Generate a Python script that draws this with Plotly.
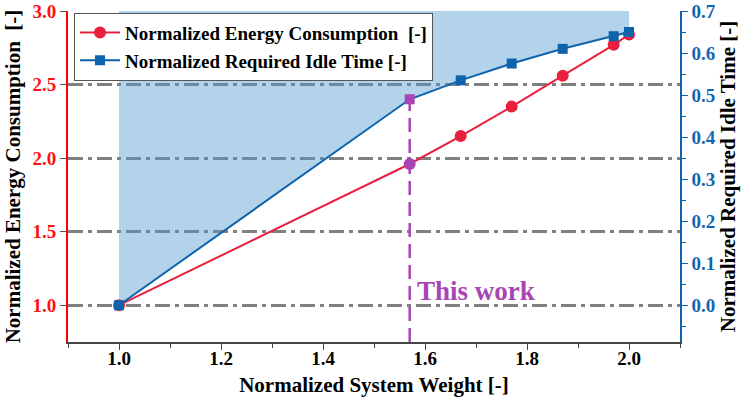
import plotly.graph_objects as go

# === data ===
weight = [1.0, 1.57, 1.67, 1.77, 1.87, 1.97, 2.0]
energy = [1.0, 1.96, 2.15, 2.35, 2.56, 2.77, 2.84]
idle_time = [0.0, 0.49, 0.535, 0.575, 0.61, 0.64, 0.65]
this_work = 1  # index of the "This work" design point

x_range = [0.9, 2.1]
y_left_range = [0.75, 3.0]
y_right_range = [-0.0875, 0.7]

FONT = "Liberation Serif, Times New Roman, serif"
RED = "#e8203e"
BLUE = "#0e63ad"
MAGENTA = "#a845b5"
GRID = "#808080"

fig = go.Figure()

# shaded area above the idle time curve
fig.add_trace(go.Scatter(
    x=weight + [max(weight), min(weight)],
    y=idle_time + [y_right_range[1], y_right_range[1]],
    yaxis="y2", fill="toself", mode="lines",
    line=dict(width=0), fillcolor="rgba(76,154,206,0.43)",
    showlegend=False, hoverinfo="skip",
))

# vertical marker for this work
fig.add_trace(go.Scatter(
    x=[weight[this_work], weight[this_work]],
    y=[y_right_range[0], idle_time[this_work]],
    yaxis="y2", mode="lines",
    line=dict(color=MAGENTA, width=2.5, dash="14px,7px"),
    showlegend=False, hoverinfo="skip",
))

red_cols = [MAGENTA if i == this_work else RED for i in range(len(weight))]
blue_cols = [MAGENTA if i == this_work else BLUE for i in range(len(weight))]

fig.add_trace(go.Scatter(
    x=weight, y=energy, mode="lines+markers",
    name="Normalized Energy Consumption \u00a0[-]",
    line=dict(color=RED, width=2),
    marker=dict(symbol="circle", size=12, color=red_cols),
    legendrank=1,
))
fig.add_trace(go.Scatter(
    x=weight, y=idle_time, yaxis="y2", mode="lines+markers",
    name="Normalized Required Idle Time [-]",
    line=dict(color=BLUE, width=2),
    marker=dict(symbol="square", size=10, color=blue_cols),
    legendrank=2,
))

fig.add_annotation(
    x=weight[this_work], y=1.10, xref="x", yref="y",
    text="This work", showarrow=False, xanchor="left", xshift=5,
    font=dict(family=FONT, size=27, color=MAGENTA, weight="bold"),
)

tick_font = dict(family=FONT, size=19, weight="bold")
title_font = dict(family=FONT, size=21, color="black", weight="bold")

fig.update_layout(
    width=747, height=397,
    margin=dict(l=68, r=67, t=11, b=55),
    plot_bgcolor="white", paper_bgcolor="white",
    font=dict(family=FONT),
    showlegend=True,
    legend=dict(
        x=0.0098, y=0.995, xanchor="left", yanchor="top",
        bgcolor="white", bordercolor="#555555", borderwidth=1,
        font=dict(family=FONT, size=19, color="black", weight="bold"),
        itemwidth=40, tracegroupgap=0,
    ),
    xaxis=dict(
        range=x_range, dtick=0.2, tick0=1.0, tickformat=".1f", automargin=False,
        showgrid=False, zeroline=False,
        showline=True, linecolor="#444444", linewidth=1.5,
        ticks="outside", ticklen=6, tickcolor="#444444", ticklabelstandoff=-8,
        minor=dict(dtick=0.1, ticks="outside", ticklen=4, tickcolor="#444444"),
        tickfont=dict(tick_font, color="black"),
        title=dict(text="Normalized System Weight [-]", font=title_font, standoff=10),
    ),
    xaxis2=dict(
        range=x_range, overlaying="x", side="top", matches="x", automargin=False,
        dtick=0.1, tick0=1.0, showticklabels=False, showgrid=False,
        showline=True, linecolor="#444444", linewidth=1.5,
        ticks="inside", ticklen=5, tickcolor="#444444",
    ),
    yaxis=dict(
        range=y_left_range, dtick=0.5, tick0=1.0, tickformat=".1f", automargin=False,
        showgrid=True, gridcolor=GRID, gridwidth=2.5, griddash="15px,5px,4px,5px",
        zeroline=False,
        showline=True, linecolor="#ff0000", linewidth=2,
        ticks="outside", ticklen=6, tickcolor="#555555",
        tickfont=dict(tick_font, color="#ff1010"),
        title=dict(text="Normalized Energy Consumption \u00a0[-]", font=title_font, standoff=6),
    ),
    yaxis2=dict(
        range=y_right_range, overlaying="y", side="right", automargin=False,
        dtick=0.1, tick0=0.0, tickformat=".1f",
        showgrid=False, zeroline=False,
        showline=True, linecolor=BLUE, linewidth=1.5,
        ticks="outside", ticklen=6, tickcolor=BLUE,
        minor=dict(dtick=0.05, ticks="outside", ticklen=4, tickcolor=BLUE),
        tickfont=dict(tick_font, color="#1166b3"),
        title=dict(text="Normalized Required Idle Time [-]", font=title_font, standoff=6),
    ),
)

fig.write_html("out.html", config={"displayModeBar": False},
               post_script="document.body.style.margin='0';")
